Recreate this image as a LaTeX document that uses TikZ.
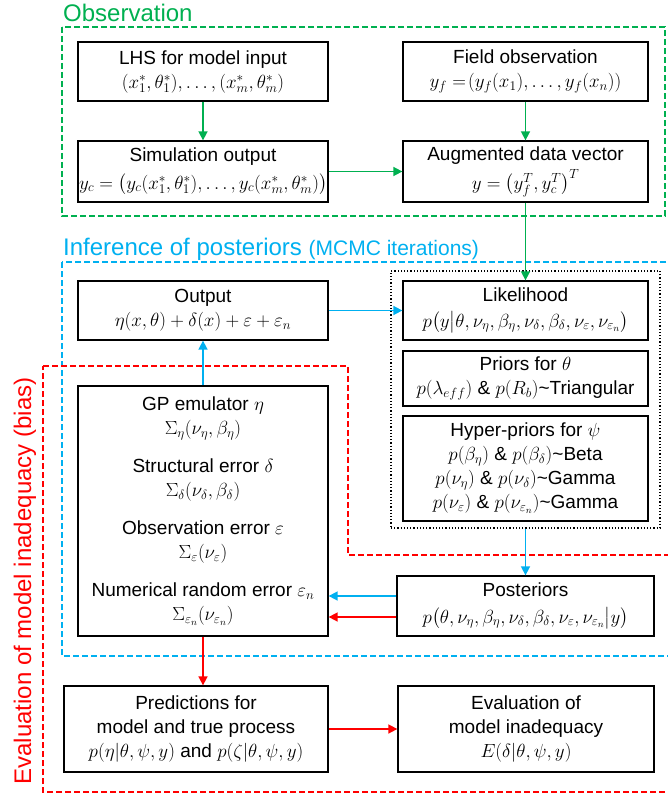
\RequirePackage{fix-cm}
\documentclass[tikz,border=0pt]{standalone}
\usepackage{fontspec}
\setmainfont{Liberation Sans}
\usepackage{amsmath}
\usetikzlibrary{calc}
\usetikzlibrary{arrows.meta}

\definecolor{obsgreen}{RGB}{0,176,80}
\definecolor{infblue}{RGB}{0,176,240}
\definecolor{evalred}{RGB}{255,0,0}

\newcommand{\boxfont}{\fontsize{19}{24}\selectfont}
\newcommand{\headfont}{\fontsize{24}{28}\selectfont}

\begin{document}
\begin{tikzpicture}[x=1pt,y=-1pt,
  box/.style={draw,line width=1.3pt,align=center,inner sep=0pt,font=\boxfont},
  zone/.style={line width=1.8pt,dash pattern=on 6pt off 3pt},
  link/.style={line width=1.6pt,-{Triangle[length=9pt,width=9pt]}},
  head/.style={anchor=base west,inner sep=0pt,font=\headfont}]

\useasboundingbox (0,0) rectangle (667,794);

% frames
\draw[zone,obsgreen] (62,27) rectangle (665,216);
\draw[zone,infblue] (62,262) rectangle (672,656);
\draw[zone,evalred] (43,366) -- (348,366) -- (348,555) -- (672,555) -- (672,792) -- (43,792) -- cycle;

\node[head,obsgreen] (obstitle) at (63,22) {Observation};
\node[head,infblue] (inftitle) at (63,255) {Inference of posteriors {\fontsize{21}{24}\selectfont(MCMC iterations)}};
\node[font=\headfont,evalred,rotate=90,inner sep=0pt] (evaltitle) at (25,581) {Evaluation of model inadequacy (bias)};

% observation
\node[box,minimum width=250,minimum height=59] (lhs) at (203,71.5)
  {LHS for model input\\ $(x_1^*,\theta_1^*),\ldots,(x_m^*,\theta_m^*)$};
\node[box,minimum width=250,minimum height=61] (sim) at (203,171.5)
  {Simulation output\\[4pt] $y_c=\bigl(y_c(x_1^*,\theta_1^*),\ldots,y_c(x_m^*,\theta_m^*)\bigr)$};
\node[box,minimum width=245,minimum height=59] (field) at (525.5,71.5)
  {Field observation\\ $y_f=\!(y_f(x_1),\ldots,y_f(x_n))$};
\node[box,minimum width=245,minimum height=61] (aug) at (525.5,171.5)
  {Augmented data vector\\[4pt] $y=\bigl(y_f^T,y_c^T\bigr)^T$};

% inference
\node[draw,dotted,line width=1.2pt,minimum width=269,minimum height=257,inner sep=0pt] (group) at (525.5,399.5) {};
\node[box,minimum width=250,minimum height=59] (output) at (203,310.5)
  {Output\\ $\eta(x,\theta)+\delta(x)+\varepsilon+\varepsilon_n$};
\node[box,minimum width=245,minimum height=59] (lik) at (525.5,310.5)
  {Likelihood\\[2pt] $p\bigl(y\big|\theta,\nu_\eta,\beta_\eta,\nu_\delta,\beta_\delta,\nu_\varepsilon,\nu_{\varepsilon_n}\bigr)$};
\node[box,minimum width=245,minimum height=55] (prior) at (525.5,378.5)
  {Priors for $\theta$\\ $p(\lambda_{eff})$ \& $p(R_b)$\textasciitilde Triangular};
\node[box,minimum width=245,minimum height=105] (hyper) at (525.5,468.5)
  {Hyper-priors for $\psi$\\ $p(\beta_\eta)$ \& $p(\beta_\delta)$\textasciitilde Beta\\
   $p(\nu_\eta)$ \& $p(\nu_\delta)$\textasciitilde Gamma\\
   $p(\nu_\varepsilon)$ \& $p(\nu_{\varepsilon_n})$\textasciitilde Gamma};
\node[box,minimum width=250,minimum height=250] (gp) at (203,511)
  {GP emulator $\eta$\\ $\Sigma_\eta(\nu_\eta,\beta_\eta)$\\[14pt]
   Structural error $\delta$\\ $\Sigma_\delta(\nu_\delta,\beta_\delta)$\\[14pt]
   Observation error $\varepsilon$\\ $\Sigma_\varepsilon(\nu_\varepsilon)$\\[14pt]
   Numerical random error $\varepsilon_n$\\ $\Sigma_{\varepsilon_n}(\nu_{\varepsilon_n})$};
\node[box,minimum width=257,minimum height=60] (post) at (525.5,606)
  {Posteriors\\[3pt] $p\bigl(\theta,\nu_\eta,\beta_\eta,\nu_\delta,\beta_\delta,\nu_\varepsilon,\nu_{\varepsilon_n}\big|y\bigr)$};

% evaluation
\node[box,minimum width=264,minimum height=86] (pred) at (196,729)
  {Predictions for\\ model and true process\\ $p(\eta|\theta,\psi,y)$ and $p(\zeta|\theta,\psi,y)$};
\node[box,minimum width=256,minimum height=86] (eval) at (526,729)
  {Evaluation of\\ model inadequacy\\ $E(\delta|\theta,\psi,y)$};

% arrows
\draw[link,obsgreen] (lhs) -- (sim);
\draw[link,obsgreen] (field) -- (aug);
\draw[link,obsgreen] (sim) -- (aug);
\draw[link,obsgreen] (aug.south) -- (lik.north);

\draw[link,infblue] (gp) -- (output);
\draw[link,infblue] (output) -- (lik);
\draw[link,infblue] (group.south) -- (post.north);

\coordinate (pb) at ([yshift=10pt]post.west);
\coordinate (pr) at ([yshift=-11pt]post.west);
\draw[link,infblue] (pb) -- (pb -| gp.east);
\draw[link,evalred] (pr) -- (pr -| gp.east);

\draw[link,evalred] (gp.south) -- (gp.south |- pred.north);
\draw[link,evalred] (pred) -- (eval);

\end{tikzpicture}
\end{document}
